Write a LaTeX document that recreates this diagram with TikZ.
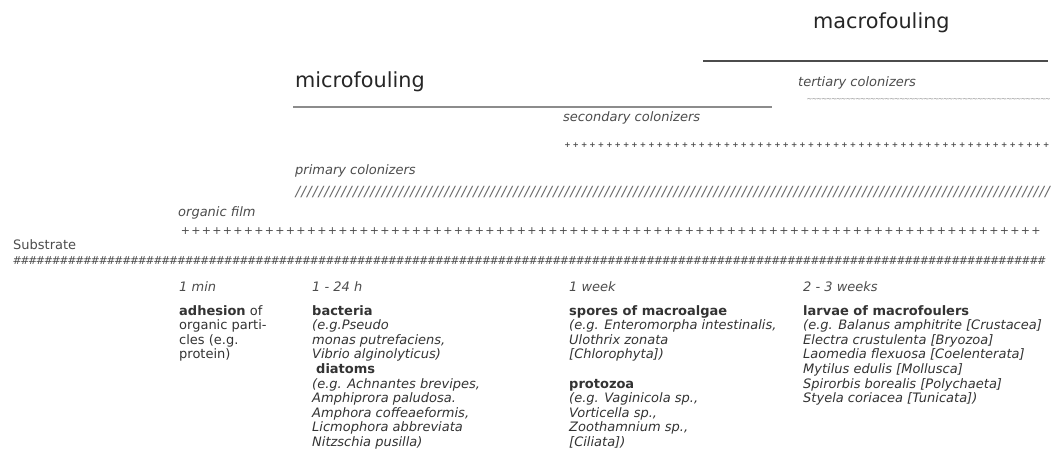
\documentclass[tikz,border=0pt]{standalone}
\usepackage{fontspec}
\setmainfont{DejaVu Sans}
\newcommand\markrow[3]{\foreach \k in {1,...,#1}{\makebox[#2]{#3}}}

\begin{document}
\begin{tikzpicture}[x=1pt, y=-1pt,
  title/.style={font=\fontsize{20.8}{24}\selectfont, text=black!85, inner sep=0, anchor=base west},
  lbl/.style={font=\fontsize{13}{15}\selectfont\itshape, text=black!70, inner sep=0, anchor=base west},
  body/.style={font=\fontsize{13}{14.6}\selectfont, text=black!80, inner sep=0, anchor=north west, align=left},
  markrowstyle/.style={inner sep=0, anchor=base west, text=black!70}]
\useasboundingbox (0,0) rectangle (1060,465);

% headings and their rules
\node[title] (micro) at (295,88) {microfouling};
\node[title] (macro) at (813,29) {macrofouling};
\coordinate (micro west) at (293,107);
\coordinate (micro east) at (772,107);
\coordinate (macro west) at (703,61);
\coordinate (macro east) at (1048,61);
\draw[black!45, line width=1.5pt] (micro west) -- (micro east);
\draw[black!70, line width=2pt] (macro west) -- (macro east);

% layers
\node[lbl] (tertiary) at (798,87) {tertiary colonizers};
\node[markrowstyle, text=black!50, font=\fontsize{7}{7}\selectfont] (tertiary row) at (807,101.5) {\markrow{50}{4.86pt}{\textasciitilde}};
\node[lbl] (secondary) at (563,122) {secondary colonizers};
\node[markrowstyle, font=\fontsize{7.5}{7.5}\selectfont\bfseries] (secondary row) at (563,147.5) {\markrow{58}{8.4pt}{+}};
\node[lbl] (primary) at (295,175) {primary colonizers};
\node[markrowstyle, text=black!60, font=\fontsize{14}{14}\selectfont\itshape] (primary row) at (295,197) {\markrow{132}{5.72pt}{/}};
\node[lbl] (film) at (178,217) {organic film};
\node[markrowstyle, font=\fontsize{11}{11}\selectfont] (film row) at (180,234) {\markrow{82}{10.5pt}{+}};
\node[lbl, font=\fontsize{13}{15}\selectfont] (substrate) at (13,250) {Substrate};
\node[markrowstyle, font=\fontsize{11}{11}\selectfont\itshape] (substrate row) at (13,264) {\markrow{132}{7.82pt}{\#}};

% times
\node[lbl] (t1) at (179,291) {1 min};
\node[lbl] (t2) at (312,291) {1 - 24 h};
\node[lbl] (t3) at (569,291) {1 week};
\node[lbl] (t4) at (803,291) {2 - 3 weeks};

% organisms
\node[body] (adhesion) at (179,305) {\textbf{adhesion} of\\organic parti-\\cles (e.g.\\protein)};
\node[body] (bacteria) at (312,305) {\textbf{bacteria}\\\textit{(e.g.Pseudo}\\\textit{monas putrefaciens,}\\\textit{Vibrio alginolyticus)}\\\hspace*{4pt}\textbf{diatoms}\\\textit{(e.g. Achnantes brevipes,}\\\textit{Amphiprora paludosa.}\\\textit{Amphora coffeaeformis,}\\\textit{Licmophora abbreviata}\\\textit{Nitzschia pusilla)}};
\node[body] (spores) at (569,305) {\textbf{spores of macroalgae}\\\textit{(e.g. Enteromorpha intestinalis,}\\\textit{Ulothrix zonata}\\\textit{[Chlorophyta])}\\[14.6pt]\textbf{protozoa}\\\textit{(e.g. Vaginicola sp.,}\\\textit{Vorticella sp.,}\\\textit{Zoothamnium sp.,}\\\textit{[Ciliata])}};
\node[body] (larvae) at (803,305) {\textbf{larvae of macrofoulers}\\\textit{(e.g. Balanus amphitrite [Crustacea]}\\\textit{Electra crustulenta [Bryozoa]}\\\textit{Laomedia flexuosa [Coelenterata]}\\\textit{Mytilus edulis [Mollusca]}\\\textit{Spirorbis borealis [Polychaeta]}\\\textit{Styela coriacea [Tunicata])}};
\end{tikzpicture}
\end{document}
